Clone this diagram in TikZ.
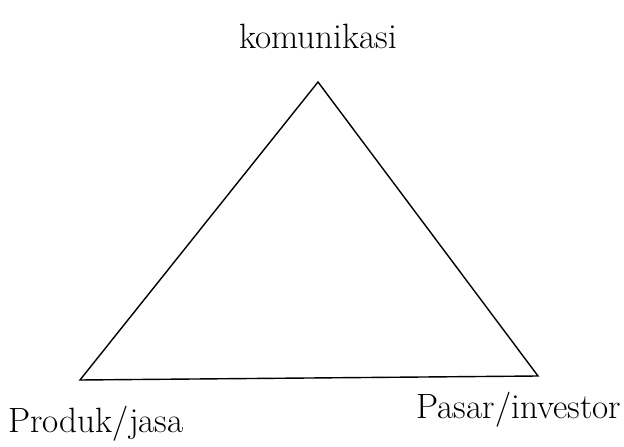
\documentclass[tikz,border=0pt]{standalone}
\usepackage{tikz}
\usetikzlibrary{positioning}

\begin{document}
\begin{tikzpicture}[
    label/.style={font=\fontsize{25}{30}\selectfont, inner sep=0pt},
    side/.style={line width=1pt, line join=miter}
]
    \useasboundingbox (0,0) rectangle (15.6,11.15);

    \coordinate (top) at (7.95,9.1);
    \coordinate (left) at (2.0,1.65);
    \coordinate (right) at (13.45,1.75);

    \node[label] (kom) at (7.95,10.25) {komunikasi};
    \node[label] (produk) at (2.4,0.55) {Produk/jasa};
    \node[label] (pasar) at (12.97,0.9) {Pasar/investor};

    \draw[side] (top) -- (right) -- (left) -- cycle;
\end{tikzpicture}
\end{document}
